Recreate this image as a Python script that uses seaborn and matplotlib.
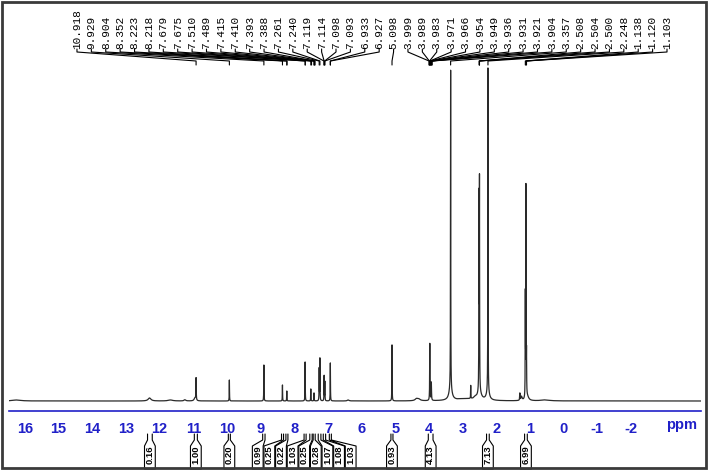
import numpy as np
import pandas as pd
import matplotlib
matplotlib.use("Agg")
import matplotlib.pyplot as plt
import matplotlib.transforms as mtransforms
from matplotlib.patches import Rectangle
from matplotlib.ticker import MultipleLocator
import seaborn as sns

# peak table: position (ppm), height (px above baseline), half width (ppm)
peak_ppm = [16.25, 12.30, 11.68, 11.25, 10.95, 10.918, 9.929, 8.904, 8.352, 8.223,
            7.679, 7.510, 7.415, 7.261, 7.240, 7.114, 7.093, 6.930, 6.40, 5.098,
            4.37, 4.30, 3.975, 3.930, 3.357, 3.36, 2.90, 2.76, 2.62, 2.515,
            2.500, 2.50, 2.248, 2.25, 1.30, 1.25, 1.138, 1.120, 1.103, 1.08, 0.55]
peak_height = [1.0, 3.0, 1.0, 1.2, 3.0, 22, 21, 36, 16, 10,
               39, 12, 8, 32, 42, 25, 19, 38, 1.0, 56,
               2.0, 1.5, 57, 18, 318, 12, 2.0, 13, 2.0, 190,
               205, 8, 324, 8, 7, 4, 100, 208, 40, 4, 1.0]
peak_width = [0.15, 0.05, 0.08, 0.03, 0.03, 0.005, 0.004, 0.004, 0.004, 0.004,
              0.004, 0.004, 0.004, 0.004, 0.004, 0.004, 0.004, 0.004, 0.03, 0.004,
              0.05, 0.05, 0.005, 0.006, 0.004, 0.05, 0.35, 0.004, 0.05, 0.004,
              0.004, 0.06, 0.004, 0.05, 0.006, 0.02, 0.004, 0.004, 0.004, 0.05, 0.15]

# peak pick labels (top)
pick_labels = ['10.918', '9.929', '8.904', '8.352', '8.223', '8.218', '7.679', '7.675',
               '7.510', '7.489', '7.415', '7.410', '7.393', '7.388', '7.261', '7.240',
               '7.119', '7.114', '7.098', '7.093', '6.933', '6.927', '5.098', '3.999',
               '3.989', '3.983', '3.971', '3.966', '3.954', '3.949', '3.936', '3.931',
               '3.921', '3.904', '3.357', '2.508', '2.504', '2.500', '2.248', '1.138',
               '1.120', '1.103']

# integrals (bottom)
int_lo = [12.36, 10.97, 9.96, 8.94, 8.38, 8.25, 7.71, 7.54, 7.44, 7.29, 7.14, 6.96, 5.13, 4.02, 2.29, 1.16]
int_hi = [12.22, 10.88, 9.90, 8.87, 8.32, 8.19, 7.65, 7.47, 7.38, 7.21, 7.07, 6.90, 5.07, 3.88, 2.21, 1.08]
int_val = ['0.16', '1.00', '0.20', '0.99', '0.25', '0.22', '1.03', '0.25', '0.28',
           '1.07', '1.08', '1.03', '0.93', '4.13', '7.13', '6.99']

tick_major = list(range(16, -5, -1))
tick_text = [str(t) if t >= -2 else '' for t in tick_major]

W, H = 708, 470
BLUE = '#2020c8'
x_lim = (16.475, -4.08)

sns.set_style("white")
plt.rcParams['font.family'] = ['Liberation Sans', 'DejaVu Sans']

# build spectrum from the peak table
ppm = np.arange(x_lim[1], x_lim[0], 0.001)
inten = np.zeros_like(ppm)
for p, h, w in zip(peak_ppm, peak_height, peak_width):
    inten += h / (1 + ((ppm - p) / w) ** 2)
df = pd.DataFrame({'ppm': ppm, 'intensity': inten})

fig = plt.figure(figsize=(W / 100, H / 100), dpi=100)
ax = fig.add_axes([9 / W, (H - 411) / H, 692 / W, 351 / H])
sns.lineplot(data=df, x='ppm', y='intensity', ax=ax, color='#2a2a2a', lw=0.9,
             estimator=None, sort=False)
ax.set_xlim(*x_lim)
ax.set_ylim(-10, 341)
ax.set_xlabel('')
ax.set_ylabel('')
ax.set_yticks([])
for s in ['top', 'left', 'right']:
    ax.spines[s].set_visible(False)
ax.spines['bottom'].set_color(BLUE)
ax.spines['bottom'].set_linewidth(1.2)
ax.set_xticks(tick_major)
ax.set_xticklabels(tick_text, fontweight='bold')
ax.xaxis.set_minor_locator(MultipleLocator(0.1))
ax.tick_params(axis='x', which='major', direction='out', length=6, width=1.1,
               color=BLUE, labelcolor=BLUE, labelsize=10.5, pad=2)
ax.tick_params(axis='x', which='minor', direction='out', length=2.5, width=0.7, color=BLUE)

blend = mtransforms.blended_transform_factory(ax.transData, fig.transFigure)


def fy(px):
    return 1 - px / H


ax.text(-3.5, fy(425), 'ppm', transform=blend, ha='center', va='center',
        color=BLUE, fontsize=10.5, fontweight='bold')

# peak labels spread over the top, with leader lines
label_pos = np.linspace(14.456, -3.07, len(pick_labels))
for lp, s in zip(label_pos, pick_labels):
    target = float(s)
    ax.text(lp, fy(49), s, transform=blend, rotation=90, ha='center', va='bottom',
            fontsize=8, family='Liberation Mono', color='black')
    ax.plot([lp, lp, target, target], [fy(49), fy(52), fy(61), fy(65)],
            transform=blend, color='black', lw=0.8, clip_on=False)


# integral boxes, spread so they do not overlap
def spread(centers, gap):
    groups = [[c] for c in centers]
    while True:
        starts = [np.mean(g) + (len(g) - 1) * gap / 2 for g in groups]
        merged = False
        for i in range(len(groups) - 1):
            last = starts[i] - (len(groups[i]) - 1) * gap
            if last - starts[i + 1] < gap:
                groups[i] = groups[i] + groups[i + 1]
                del groups[i + 1]
                merged = True
                break
        if not merged:
            break
    pos = []
    for g, st in zip(groups, starts):
        pos += [st - k * gap for k in range(len(g))]
    return pos


centers = [(a + b) / 2 for a, b in zip(int_lo, int_hi)]
box_pos = spread(centers, 0.345)
half = 0.16
for lo, hi, bp, v in zip(int_lo, int_hi, box_pos, int_val):
    ax.plot([lo, lo, bp + half, bp + half, bp - half, bp - half, hi, hi],
            [fy(434), fy(440), fy(446), fy(469), fy(469), fy(446), fy(440), fy(434)],
            transform=blend, color='black', lw=0.8, clip_on=False)
    ax.text(bp, fy(455), v, transform=blend, rotation=90, ha='center', va='center',
            fontsize=6.8, fontweight='bold', color='black')

fig.add_artist(Rectangle((2 / W, 2 / H), (W - 4) / W, (H - 4) / H, transform=fig.transFigure,
                         fill=False, ec='#3a3a3a', lw=2))

fig.savefig('out.png', dpi=100)
